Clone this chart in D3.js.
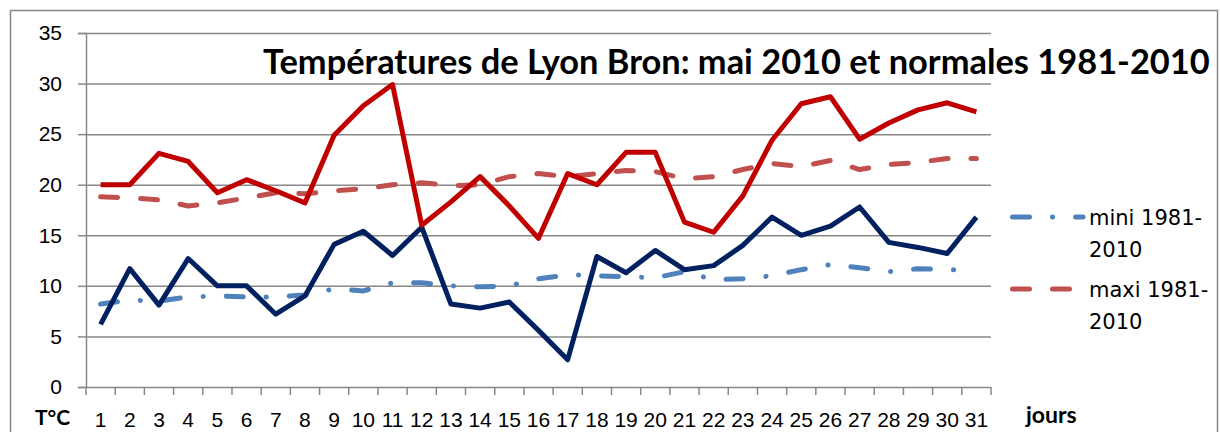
<!DOCTYPE html>
<html>
<head>
<meta charset="utf-8">
<script src="https://cdn.jsdelivr.net/npm/d3@7"></script>
<style>
  body { margin: 0; background: #fff; }
  svg { display: block; font-family: "DejaVu Sans", sans-serif; }
</style>
</head>
<body>
<div id="chart"></div>
<script>
// data: Lyon Bron, May 2010
const days = d3.range(1, 32).map(String);
const maxi2010 = [20.0, 20.0, 23.1, 22.3, 19.2, 20.5, 19.4, 18.2, 24.9, 27.8, 29.9, 16.0, 18.3, 20.8, 17.9, 14.7, 21.1, 20.0, 23.2, 23.2, 16.3, 15.3, 18.9, 24.4, 28.0, 28.7, 24.5, 26.1, 27.4, 28.1, 27.2];
const mini2010 = [6.2, 11.7, 8.1, 12.7, 10.0, 10.0, 7.2, 9.0, 14.1, 15.4, 13.0, 15.8, 8.2, 7.8, 8.4, 5.6, 2.7, 12.9, 11.3, 13.5, 11.6, 12.0, 14.0, 16.8, 15.0, 15.9, 17.8, 14.3, 13.8, 13.2, 16.8];
const maxiNormale = [18.8, 18.7, 18.5, 17.9, 18.2, 18.7, 19.2, 19.1, 19.4, 19.6, 20.0, 20.2, 19.9, 20.0, 20.8, 21.1, 20.8, 21.1, 21.4, 21.3, 20.6, 20.8, 21.5, 22.1, 21.8, 22.4, 21.5, 22.0, 22.2, 22.6, 22.6];
const miniNormale = [8.2, 8.6, 8.5, 8.9, 9.0, 8.9, 8.9, 9.1, 9.7, 9.5, 10.3, 10.3, 10.0, 9.9, 10.0, 10.7, 11.1, 11.0, 10.9, 10.8, 11.4, 10.6, 10.7, 11.0, 11.6, 12.1, 11.8, 11.4, 11.7, 11.6, 11.6];
const yTicks = [0, 5, 10, 15, 20, 25, 30, 35];

const W = 1220, H = 432;
const plot = { left: 86, right: 991, top: 33, bottom: 387 };
const grey = "#888";

const svg = d3.select("#chart").append("svg")
    .attr("width", W).attr("height", H);

// outer frame
svg.append("rect")
    .attr("x", 10.5).attr("y", 10.5)
    .attr("width", 1207).attr("height", 440)
    .attr("fill", "none").attr("stroke", grey).attr("stroke-width", 1.5);

const x = d3.scaleBand().domain(days).range([plot.left, plot.right]).padding(0);
const y = d3.scaleLinear().domain([0, 35]).range([plot.bottom, plot.top]);
const cx = d => x(d) + x.bandwidth() / 2;

// gridlines + y axis
svg.append("g")
    .attr("transform", `translate(${plot.left},0)`)
    .call(d3.axisLeft(y).tickValues(yTicks).tickSize(8).tickPadding(16).tickFormat(d3.format("d")))
    .call(g => g.selectAll("line").attr("stroke", grey).attr("stroke-width", 1.5))
    .call(g => g.select(".domain").attr("stroke", grey).attr("stroke-width", 1.5))
    .call(g => g.selectAll("text").style("font-size", "21px").attr("fill", "#000"))
    .call(g => g.selectAll(".tick").append("line")
        .attr("x2", plot.right - plot.left)
        .attr("stroke", grey).attr("stroke-width", 1.5));

// x axis: ticks at category boundaries, labels in the middle
const xg = svg.append("g").attr("transform", `translate(0,${plot.bottom})`);
xg.selectAll("line.b")
    .data(days.map(d => x(d)).concat([plot.right]))
    .join("line")
    .attr("x1", d => d).attr("x2", d => d)
    .attr("y1", 0).attr("y2", 8)
    .attr("stroke", grey).attr("stroke-width", 1.5);
xg.call(d3.axisBottom(x).tickSize(0).tickPadding(0))
    .call(g => g.select(".domain").remove())
    .call(g => g.selectAll("text")
        .attr("y", 40).attr("dy", null)
        .style("font-size", "21px").attr("fill", "#000"));

// series
const line = d3.line().x((v, i) => cx(days[i])).y(v => y(v));

const series = [
    { name: "mini 1981-2010", values: miniNormale, color: "#4f81bd", dash: "17,23,0.1,23" },
    { name: "maxi 1981-2010", values: maxiNormale, color: "#c0504d", dash: "17,23" },
    { name: "mini 2010", values: mini2010, color: "#002060", dash: null },
    { name: "maxi 2010", values: maxi2010, color: "#c00000", dash: null }
];

svg.append("g").selectAll("path")
    .data(series)
    .join("path")
    .attr("d", s => line(s.values))
    .attr("fill", "none")
    .attr("stroke", s => s.color)
    .attr("stroke-width", 5)
    .attr("stroke-linejoin", "round")
    .attr("stroke-linecap", s => s.dash ? "round" : "butt")
    .attr("stroke-dasharray", s => s.dash);

// title, fitted to the same width as the original
const title = svg.append("text")
    .attr("x", 263).attr("y", 74)
    .style("font-family", "Lato, sans-serif")
    .style("font-size", "29px").style("font-weight", "bold")
    .text("Températures de Lyon Bron: mai 2010 et normales 1981-2010");
const tw = title.node().getComputedTextLength();
title.style("font-size", (29 * 947 / tw) + "px");

// legend
const legend = svg.append("g").selectAll("g")
    .data(series.slice(0, 2))
    .join("g")
    .attr("transform", (d, i) => `translate(1010,${217 + i * 72})`);
legend.append("line")
    .attr("x1", 2.5).attr("x2", 73)
    .attr("stroke", d => d.color).attr("stroke-width", 5)
    .attr("stroke-linecap", "round")
    .attr("stroke-dasharray", d => d.dash);
legend.append("text")
    .attr("x", 79).attr("y", 7.5)
    .style("font-size", "21px")
    .text(d => d.name.split(" ")[0] + " " + d.name.split(" ")[1].split("-")[0] + "-");
legend.append("text")
    .attr("x", 79).attr("y", 40)
    .style("font-size", "21px")
    .text(d => d.name.split("-")[1]);

// axis captions
svg.append("text").attr("x", 35).attr("y", 425)
    .style("font-family", "Lato, sans-serif")
    .style("font-size", "21px").style("font-weight", "bold").text("T°C");
svg.append("text").attr("x", 1026).attr("y", 423)
    .style("font-family", "Lato, sans-serif")
    .style("font-size", "23px").style("font-weight", "bold").text("jours");
</script>
</body>
</html>
